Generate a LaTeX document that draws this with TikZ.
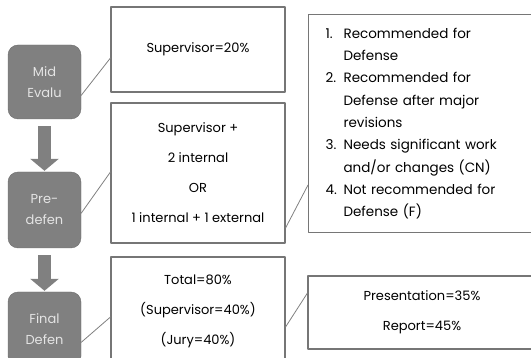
\documentclass[tikz,border=0pt]{standalone}
\usepackage{fontspec}
\setmainfont{Poppins}
\usetikzlibrary{arrows.meta}
\definecolor{stagefill}{RGB}{128,128,128}
\definecolor{stageedge}{RGB}{108,108,108}
\definecolor{stagetext}{RGB}{228,228,228}
\definecolor{paneledge}{RGB}{118,118,118}
\definecolor{linkgray}{RGB}{128,128,128}

\begin{document}
\begin{tikzpicture}[line cap=round,line join=round,x=1pt,y=-1pt,
  stage/.style={draw=stageedge,fill=stagefill,rounded corners=10pt,text=stagetext,
    minimum width=73pt,align=center,font=\fontsize{13}{21}\selectfont},
  panel/.style={draw=paneledge,line width=1.1pt,fill=white,align=center,
    font=\fontsize{13}{30}\selectfont},
  link/.style={draw=linkgray,line width=0.8pt},
  flow/.style={draw=stagefill,line width=13pt,line cap=butt,
    -{Triangle[width=28pt,length=12pt]},shorten <=7pt,shorten >=1pt}]
\useasboundingbox (0,0) rectangle (531,358);
% stages
\node[stage,minimum height=74pt] (mid) at (44.5,82) {Mid\\Evalu};
\node[stage,minimum height=76pt] (pre) at (44.5,210) {Pre-\\defen};
\node[stage,minimum height=74pt] (fin) at (44.5,329) {Final\\Defen};
\draw[flow] (mid.south) -- (pre.north);
\draw[flow] (pre.south) -- (fin.north);
% marks and jury
\node[panel,minimum width=174pt,minimum height=85pt] (sup) at (198,49.5) {Supervisor=20\%};
\node[panel,minimum width=174pt,minimum height=140pt] (jury) at (198,173)
  {Supervisor +\\2 internal\\OR\\1 internal + 1 external};
\node[panel,minimum width=174pt,minimum height=109pt] (total) at (198,311.5)
  {Total=80\%\\(Supervisor=40\%)\\(Jury=40\%)};
\node[panel,minimum width=228pt,minimum height=73pt] (split) at (422,312.5)
  {Presentation=35\%\\Report=45\%};
\node[panel,anchor=north west,align=left,text width=230pt,minimum height=218pt,
  inner xsep=17pt,font=\fontsize{13.5}{22.3}\selectfont] (verdict) at (308,14)
  {\makebox[18pt][l]{1.}Recommended for\\
   \hspace*{18pt}Defense\\
   \makebox[18pt][l]{2.}Recommended for\\
   \hspace*{18pt}Defense after major\\
   \hspace*{18pt}revisions\\
   \makebox[18pt][l]{3.}Needs significant work\\
   \hspace*{18pt}and/or changes (CN)\\
   \makebox[18pt][l]{4.}Not recommended for\\
   \hspace*{18pt}Defense (F)};
% links
\draw[link] (mid.-20) -- (sup.west |- 0,58);
\draw[link] (pre.-5) -- (jury.west |- 0,172);
\draw[link] (fin.-20) -- (total.west |- 0,317);
\draw[link] (jury.east |- 0,228) -- (verdict.west |- 0,185);
\draw[link] (total.east |- 0,327) -- (split.west |- 0,293);
\end{tikzpicture}
\end{document}
